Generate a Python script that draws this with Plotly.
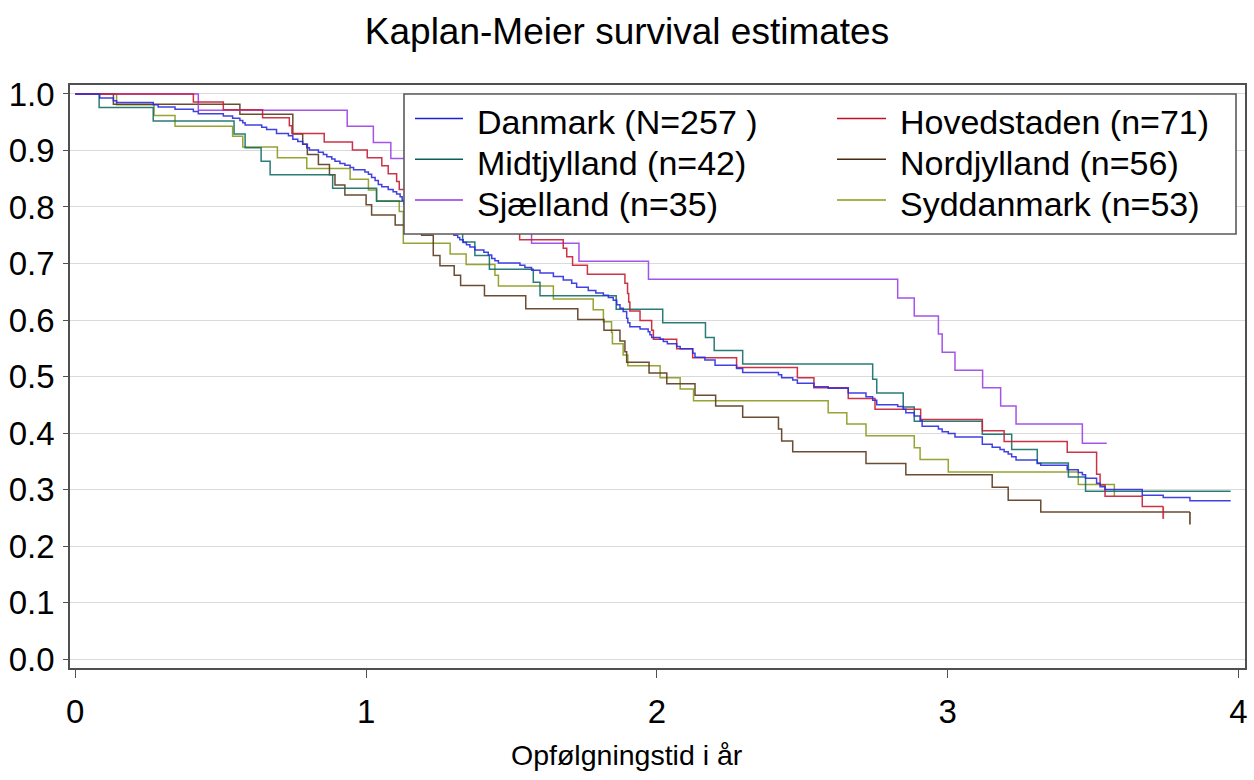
import plotly.graph_objects as go

# ---------------- data ----------------
labels = ["Danmark (N=257 )", "Hovedstaden (n=71)", "Midtjylland (n=42)",
          "Nordjylland (n=56)", "Sjælland (n=35)", "Syddanmark (n=53)"]

danmark_t = [0, 0.084, 0.131, 0.142, 0.268, 0.285, 0.343, 0.406, 0.423, 0.509, 0.541, 0.566, 0.576,
             0.584, 0.641, 0.658, 0.692, 0.733, 0.748, 0.765, 0.782, 0.796, 0.805, 0.836, 0.853,
             0.865, 0.882, 0.893, 0.910, 0.927, 0.945, 0.957, 0.996, 1.008, 1.019, 1.031, 1.042,
             1.054, 1.076, 1.093, 1.105, 1.117, 1.124, 1.130, 1.15, 1.18, 1.20, 1.23, 1.26, 1.28,
             1.302, 1.315, 1.322, 1.334, 1.345, 1.357, 1.374, 1.405, 1.420, 1.432, 1.443, 1.455,
             1.529, 1.546, 1.569, 1.598, 1.644, 1.678, 1.707, 1.724, 1.764, 1.790, 1.816, 1.833,
             1.850, 1.862, 1.873, 1.884, 1.896, 1.900, 1.907, 1.942, 1.970, 1.976, 1.982, 2.011,
             2.022, 2.036, 2.068, 2.080, 2.123, 2.131, 2.165, 2.200, 2.274, 2.295, 2.418, 2.429,
             2.467, 2.483, 2.540, 2.589, 2.658, 2.719, 2.742, 2.756, 2.828, 2.847, 2.856, 2.885,
             2.905, 2.912, 2.968, 2.981, 3.002, 3.025, 3.119, 3.153, 3.180, 3.194, 3.208, 3.220,
             3.235, 3.308, 3.320, 3.411, 3.449, 3.463, 3.474, 3.512, 3.524, 3.541, 3.669, 3.741,
             3.833]
danmark_s = [1.0, 0.993, 0.988, 0.985, 0.981, 0.977, 0.973, 0.969, 0.965, 0.961, 0.957, 0.953, 0.949,
             0.945, 0.941, 0.937, 0.930, 0.926, 0.920, 0.916, 0.911, 0.905, 0.901, 0.897, 0.893,
             0.889, 0.885, 0.881, 0.877, 0.874, 0.870, 0.866, 0.862, 0.858, 0.852, 0.847, 0.840,
             0.836, 0.831, 0.827, 0.823, 0.818, 0.812, 0.805, 0.798, 0.790, 0.782, 0.774, 0.766, 0.758,
             0.750, 0.746, 0.742, 0.737, 0.733, 0.729, 0.724, 0.720, 0.715, 0.709, 0.705, 0.701,
             0.697, 0.693, 0.688, 0.683, 0.677, 0.671, 0.665, 0.658, 0.652, 0.648, 0.644, 0.640,
             0.635, 0.627, 0.621, 0.615, 0.603, 0.595, 0.588, 0.584, 0.579, 0.574, 0.569, 0.566,
             0.562, 0.558, 0.553, 0.549, 0.541, 0.534, 0.529, 0.520, 0.514, 0.507, 0.503, 0.498,
             0.494, 0.488, 0.482, 0.479, 0.471, 0.464, 0.458, 0.450, 0.447, 0.442, 0.436, 0.430,
             0.422, 0.412, 0.407, 0.402, 0.399, 0.393, 0.380, 0.375, 0.371, 0.367, 0.363, 0.358,
             0.352, 0.346, 0.343, 0.335, 0.330, 0.326, 0.320, 0.311, 0.305, 0.300, 0.290, 0.286,
             0.280]
danmark_end = 3.973

hoved_t = [0, 0.406, 0.509, 0.644, 0.736, 0.745, 0.856, 0.953, 1.004, 1.054, 1.076, 1.105, 1.114,
           1.18, 1.26, 1.33, 1.40, 1.46, 1.528, 1.678, 1.690, 1.710, 1.761, 1.890, 1.899, 1.903,
           1.907, 1.942, 1.982, 1.988, 2.068, 2.123, 2.274, 2.483, 2.540, 2.658, 2.750, 2.907,
           3.119, 3.194, 3.411, 3.512, 3.524, 3.541, 3.669]
hoved_s = [1.0, 0.986, 0.972, 0.958, 0.944, 0.930, 0.915, 0.901, 0.887, 0.873, 0.859, 0.845, 0.831,
           0.817, 0.803, 0.789, 0.775, 0.761, 0.742, 0.727, 0.712, 0.697, 0.681, 0.665, 0.647, 0.632,
           0.616, 0.599, 0.582, 0.566, 0.549, 0.533, 0.516, 0.498, 0.480, 0.461, 0.442, 0.424,
           0.404, 0.385, 0.366, 0.327, 0.308, 0.288, 0.270]
hoved_end = 3.741

midt_t = [0, 0.082, 0.268, 0.546, 0.584, 0.639, 0.670, 0.885, 1.036, 1.15, 1.25, 1.332, 1.374,
          1.424, 1.575, 1.598, 1.860, 2.020, 2.167, 2.197, 2.295, 2.742, 2.756, 2.847, 2.885,
          3.119, 3.220, 3.308, 3.415, 3.474]
midt_s = [1.0, 0.976, 0.952, 0.929, 0.905, 0.881, 0.857, 0.833, 0.810, 0.786, 0.762, 0.738, 0.714,
          0.690, 0.667, 0.643, 0.619, 0.595, 0.569, 0.546, 0.522, 0.495, 0.471, 0.446, 0.421,
          0.398, 0.371, 0.347, 0.322, 0.297]
midt_end = 3.973

nord_t = [0, 0.131, 0.566, 0.748, 0.782, 0.798, 0.836, 0.874, 0.893, 0.927, 1.000, 1.019, 1.10,
          1.191, 1.231, 1.254, 1.303, 1.325, 1.407, 1.549, 1.728, 1.818, 1.873, 1.890, 1.896,
          1.973, 2.034, 2.131, 2.202, 2.295, 2.418, 2.429, 2.467, 2.719, 2.856, 3.153, 3.208, 3.320]
nord_s = [1.0, 0.982, 0.964, 0.929, 0.911, 0.893, 0.875, 0.857, 0.839, 0.821, 0.804, 0.786, 0.768,
          0.750, 0.714, 0.696, 0.679, 0.661, 0.643, 0.620, 0.601, 0.582, 0.563, 0.544, 0.525,
          0.506, 0.487, 0.467, 0.448, 0.428, 0.407, 0.386, 0.367, 0.346, 0.326, 0.304, 0.281, 0.260]
nord_end = 3.833

sjael_t = [0, 0.423, 0.935, 1.025, 1.085, 1.20, 1.30, 1.39, 1.48, 1.569, 1.732, 1.971, 2.828, 2.885,
           2.968, 2.981, 3.025, 3.120, 3.182, 3.235, 3.463]
sjael_s = [1.0, 0.971, 0.943, 0.914, 0.886, 0.857, 0.829, 0.800, 0.771, 0.736, 0.704, 0.672, 0.639,
           0.607, 0.575, 0.543, 0.511, 0.480, 0.448, 0.416, 0.382]
sjael_end = 3.547

sydd_t = [0, 0.142, 0.271, 0.343, 0.541, 0.576, 0.695, 0.796, 0.945, 1.008, 1.036, 1.114, 1.128,
          1.289, 1.344, 1.443, 1.455, 1.644, 1.781, 1.816, 1.844, 1.847, 1.884, 1.900, 2.011, 2.080,
          2.126, 2.589, 2.653, 2.719, 2.885, 2.905, 3.002, 3.449, 3.573]
sydd_s = [1.0, 0.981, 0.962, 0.943, 0.925, 0.906, 0.887, 0.868, 0.849, 0.830, 0.811, 0.792, 0.736,
          0.717, 0.698, 0.679, 0.660, 0.637, 0.618, 0.597, 0.578, 0.558, 0.538, 0.519, 0.498, 0.478,
          0.457, 0.436, 0.416, 0.395, 0.374, 0.353, 0.331, 0.309, 0.288]
sydd_end = 3.573

# groups whose last follow-up is drawn with a censoring tick
censor_groups = [1, 3]

x_ticks = [0, 1, 2, 3, 4]
y_ticks = [0.0, 0.1, 0.2, 0.3, 0.4, 0.5, 0.6, 0.7, 0.8, 0.9, 1.0]

# ---------------- style ----------------
colors = ["#2d2de0", "#c81e34", "#146e68", "#5a3a1c", "#9b42e8", "#8c9a1c"]
legend_colors = ["#1f1fd8", "#c0102a", "#0b5f5a", "#48290c", "#9333e4", "#8a9a10"]
FONT = "Liberation Sans, Arial, sans-serif"

series = [(danmark_t, danmark_s, danmark_end), (hoved_t, hoved_s, hoved_end),
          (midt_t, midt_s, midt_end), (nord_t, nord_s, nord_end),
          (sjael_t, sjael_s, sjael_end), (sydd_t, sydd_s, sydd_end)]

fig = go.Figure()
draw_order = [5, 3, 2, 4, 1, 0]
for i in draw_order:
    t, s, end = series[i]
    fig.add_trace(go.Scatter(
        x=list(t) + [end], y=list(s) + [s[-1]],
        mode="lines", line=dict(color=colors[i], width=1.5, shape="hv"),
        opacity=0.9, name=labels[i], showlegend=False, hoverinfo="skip"))

# censoring ticks at last follow-up
for i in censor_groups:
    t, s, end = series[i]
    fig.add_trace(go.Scatter(
        x=[end, end], y=[s[-1], s[-1] - 0.022], mode="lines",
        line=dict(color=colors[i], width=1.8), opacity=0.85,
        showlegend=False, hoverinfo="skip"))

# ---------------- layout ----------------
W, H = 1254, 780
ML, MR, MT, MB = 70, 9, 85, 112
PW, PH = W - ML - MR, H - MT - MB


def px(xp):
    return (xp - ML) / PW


def py(yp):
    return (H - MB - yp) / PH


fig.update_layout(
    width=W, height=H,
    margin=dict(l=ML, r=MR, t=MT, b=MB, autoexpand=False),
    paper_bgcolor="white", plot_bgcolor="white",
    font=dict(family=FONT, color="black", size=32),
    title=dict(text="Kaplan-Meier survival estimates", x=0.5, xref="container",
               y=1 - 31 / H, yref="container", xanchor="center", yanchor="middle",
               font=dict(family=FONT, size=37, color="black")),
    showlegend=False,
)
fig.update_xaxes(
    range=[-0.0182, 4.0223], tickvals=x_ticks, ticktext=[str(v) for v in x_ticks],
    showgrid=False, zeroline=False, showline=True, mirror=True,
    linecolor="#505050", linewidth=1.6, ticks="outside", ticklen=8, tickwidth=1.2,
    tickcolor="#505050", tickfont=dict(family=FONT, size=33, color="black"),
    ticklabelstandoff=6)
fig.update_yaxes(
    range=[-0.0159, 1.0159], tickvals=y_ticks, ticktext=[f"{v:.1f}" for v in y_ticks],
    showgrid=True, gridcolor="#dadada", gridwidth=1.2, zeroline=False, showline=True,
    mirror=True, linecolor="#505050", linewidth=1.6, ticks="outside", ticklen=5,
    tickwidth=1.2, tickcolor="#505050", tickfont=dict(family=FONT, size=33, color="black"),
    ticklabelstandoff=2)

# x-axis title (centred on the figure, as in the reference)
fig.add_annotation(text="Opfølgningstid i år", xref="paper", yref="paper",
                   x=px(627), y=py(755), xanchor="center", yanchor="middle",
                   showarrow=False, font=dict(family=FONT, size=28.5, color="black"))

# legend box
fig.add_shape(type="rect", xref="paper", yref="paper", x0=px(404), x1=px(1236),
              y0=py(234), y1=py(94), line=dict(color="#5a5a5a", width=1.6),
              fillcolor="white", layer="above")
legend_cols = [(415, 463, 475), (837, 886, 898)]
legend_rows = [118.5, 159.3, 200]
legend_pos = [(0, 0), (1, 0), (0, 1), (1, 1), (0, 2), (1, 2)]
for i, (c, r) in enumerate(legend_pos):
    x0, x1, xt = legend_cols[c]
    yrow = legend_rows[r]
    fig.add_shape(type="line", xref="paper", yref="paper", x0=px(x0), x1=px(x1),
                  y0=py(yrow), y1=py(yrow), line=dict(color=legend_colors[i], width=1.4),
                  layer="above")
    fig.add_annotation(text=labels[i], xref="paper", yref="paper", x=px(xt),
                       y=py(yrow + 4), xanchor="left", yanchor="middle", showarrow=False,
                       font=dict(family=FONT, size=34, color="black"))

fig.write_html("out.html", config={"displayModeBar": False},
               post_script="document.body.style.margin='0';"
                           "document.body.style.overflow='hidden';")
